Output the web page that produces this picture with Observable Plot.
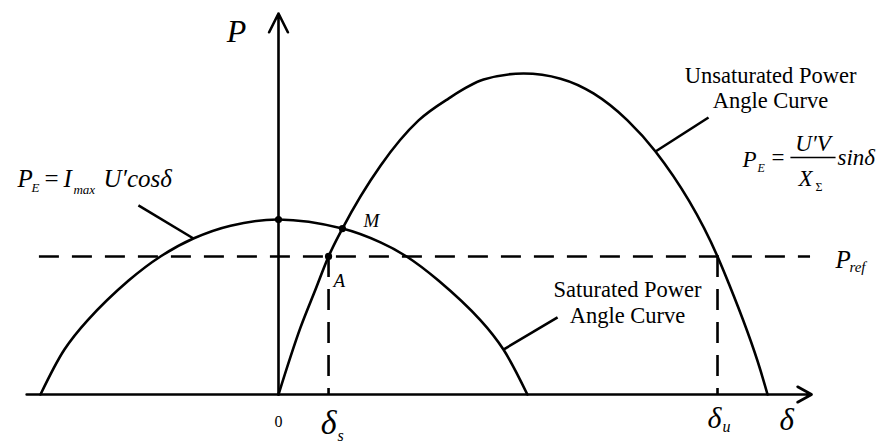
<!DOCTYPE html>
<html>
<head>
<meta charset="utf-8">
<script src="https://cdn.jsdelivr.net/npm/d3@7"></script>
<script src="https://cdn.jsdelivr.net/npm/@observablehq/plot@0.6"></script>
<style>
  body { margin: 0; background: #fff; }
  #chart svg { display: block; background: #fff; }
</style>
</head>
<body>
<div id="chart"></div>
<script>
// Unsaturated power-angle curve  P = U'V / XΣ · sin δ   (δ in degrees, P normalised to its peak)
const unsatDelta = [0, 8.1, 13.6, 18.4, 23.5, 37.5, 51.5, 62.5, 75.4, 90.1, 103.7, 115.8, 128.3, 138.6, 161.4, 165.1, 177.2, 179.8];
const unsatP     = [0, 0.209, 0.327, 0.430, 0.517, 0.713, 0.854, 0.922, 0.981, 1.000, 0.984, 0.938, 0.854, 0.757, 0.430, 0.355, 0.075, 0];

// Saturated power-angle curve  P = Imax U' cos δ
const satDelta = [-87.5, -78.7, -70.2, -55.1, -43.4, -31.3, -17.6, 0, 23.5, 37.5, 47.1, 58.8, 74.3, 82.7, 91.5];
const satP     = [0, 0.140, 0.231, 0.355, 0.430, 0.486, 0.526, 0.545, 0.517, 0.474, 0.430, 0.355, 0.231, 0.140, 0];

// Reference power and the two operating angles
const pRef = 0.43;
const deltaS = 18.4;
const deltaU = 161.4;

// Marked points: cos-curve peak, M (curves intersect), A (saturated operating point)
const pointDelta = [0, 23.5, deltaS];
const pointP     = [0.545, 0.517, pRef];
const pointName  = ["", "M", "A"];

// Axis extents
const deltaAxis = [-92.6, 196];
const pAxisTop = 1.187;

const serif = "Liberation Serif, Times New Roman, serif";
const unsat = unsatDelta.map((d, i) => ({delta: d, p: unsatP[i]}));
const sat = satDelta.map((d, i) => ({delta: d, p: satP[i]}));
const points = pointDelta.map((d, i) => ({delta: d, p: pointP[i], name: pointName[i]}));

const SW = 2.6;
const ink = "#000";

// text pieces of the two formulas and the other annotations
const txt = (data, o) => Plot.text(data, {
  x: "x", y: "y", text: "t",
  fontFamily: serif, fill: ink, lineAnchor: "bottom", textAnchor: "start", ...o
});

const chart = Plot.plot({
  width: 887,
  height: 444,
  margin: 0,
  style: {background: "#fff", fontFamily: serif},
  x: {domain: [-102.206, 223.897], axis: null},
  y: {domain: [-0.15576, 1.22741], axis: null},
  marks: [
    // reference power and the operating-angle projections
    Plot.ruleY([pRef], {x1: -87.9, x2: 195.6, stroke: ink, strokeWidth: SW, strokeDasharray: "20,13"}),
    Plot.ruleX([deltaS, deltaU], {y1: pRef, y2: 0, stroke: ink, strokeWidth: SW, strokeDasharray: "21,12"}),

    // axes with open arrowheads
    Plot.arrow([{x1: deltaAxis[0], x2: deltaAxis[1], y1: 0, y2: 0}], {
      x1: "x1", x2: "x2", y1: "y1", y2: "y2",
      stroke: ink, strokeWidth: SW, headLength: 16 * 1.5 / SW, headAngle: 58
    }),
    Plot.arrow([{x: 0, y1: 0, y2: pAxisTop}], {
      x1: "x", x2: "x", y1: "y1", y2: "y2",
      stroke: ink, strokeWidth: SW, headLength: 21 * 1.5 / SW, headAngle: 53
    }),

    // power-angle curves
    Plot.line(sat, {x: "delta", y: "p", curve: "catmull-rom", stroke: ink, strokeWidth: SW}),
    Plot.line(unsat, {x: "delta", y: "p", curve: "monotone-x", stroke: ink, strokeWidth: SW}),

    // leader lines from the labels to the curves
    Plot.link([
      {x1: -51.5, y1: 0.589, x2: -31.25, y2: 0.486},
      {x1: 82.7, y1: 0.140, x2: 102.6, y2: 0.240},
      {x1: 138.6, y1: 0.757, x2: 158.1, y2: 0.863}
    ], {x1: "x1", y1: "y1", x2: "x2", y2: "y2", stroke: ink, strokeWidth: SW}),

    // fraction bar of U'V / XΣ
    Plot.link([{x1: 188.2, x2: 204.8, y: 0.7383}], {x1: "x1", x2: "x2", y1: "y", y2: "y", stroke: ink, strokeWidth: 1.3}),

    Plot.dot(points, {x: "delta", y: "p", r: 3.6, fill: ink, stroke: null}),

    // point names
    Plot.text(points.filter(d => d.name === "A"), {
      x: "delta", y: "p", text: "name", dx: 5, dy: 31, fontFamily: serif, fontStyle: "italic", fontSize: 19,
      fill: ink, lineAnchor: "bottom", textAnchor: "start"
    }),
    Plot.text(points.filter(d => d.name === "M"), {
      x: "delta", y: "p", text: "name", dx: 21, dy: -2, fontFamily: serif, fontStyle: "italic", fontSize: 19,
      fill: ink, lineAnchor: "bottom", textAnchor: "start"
    }),

    // axis labels
    txt([{x: -15.4, y: 1.0966, t: "P"}], {fontStyle: "italic", fontSize: 32, textAnchor: "middle"}),
    txt([{x: 0, y: -0.1028, t: "0"}], {fontSize: 16, textAnchor: "middle"}),
    txt([{x: 186.8, y: -0.112, t: "δ"}], {fontStyle: "italic", fontSize: 31, textAnchor: "middle"}),
    txt([{x: deltaS, y: -0.1215, t: "δ"}], {fontStyle: "italic", fontSize: 34, textAnchor: "middle"}),
    txt([{x: deltaS, y: -0.1433, t: "s"}], {fontStyle: "italic", fontSize: 16, dx: 9}),
    txt([{x: deltaU, y: -0.1059, t: "δ"}], {fontStyle: "italic", fontSize: 30, textAnchor: "middle", dx: -3}),
    txt([{x: deltaU, y: -0.118, t: "u"}], {fontStyle: "italic", fontSize: 16, dx: 5}),

    // P_ref label
    txt([{x: 204.8, y: 0.3956, t: "P"}], {fontStyle: "italic", fontSize: 25}),
    txt([{x: 209.9, y: 0.383, t: "ref"}], {fontStyle: "italic", fontSize: 15}),

    // P_E = I_max U'cosδ
    txt([{x: -95.96, y: 0.6449, t: "P"}, {x: -79.04, y: 0.6449, t: "I"}, {x: -64.34, y: 0.6449, t: "U′cosδ"}],
        {fontStyle: "italic", fontSize: 25}),
    txt([{x: -86.0, y: 0.6449, t: "="}], {fontSize: 25}),
    txt([{x: -90.8, y: 0.6293, t: "E"}, {x: -75.4, y: 0.626, t: "max"}], {fontStyle: "italic", fontSize: 13}),

    // P_E = U'V / XΣ sinδ
    txt([{x: 170.6, y: 0.7072, t: "P"}, {x: 191.2, y: 0.651, t: "X"}, {x: 205.5, y: 0.7134, t: "sinδ"}],
        {fontStyle: "italic", fontSize: 23}),
    txt([{x: 196.5, y: 0.760, t: "U′V"}], {fontStyle: "italic", fontSize: 23, textAnchor: "middle"}),
    txt([{x: 181.25, y: 0.7165, t: "="}], {fontSize: 23}),
    txt([{x: 176.1, y: 0.6916, t: "E"}], {fontStyle: "italic", fontSize: 12}),
    txt([{x: 197.4, y: 0.6355, t: "Σ"}], {fontSize: 12}),

    // curve names
    txt([{x: 180.9, y: 0.894, t: "Unsaturated Power\nAngle Curve"}], {fontSize: 22.5, lineHeight: 1.07, textAnchor: "middle"}),
    txt([{x: 128.3, y: 0.2243, t: "Saturated Power\nAngle Curve"}], {fontSize: 22.5, lineHeight: 1.15, textAnchor: "middle"})
  ]
});

document.getElementById("chart").appendChild(chart);
</script>
</body>
</html>
